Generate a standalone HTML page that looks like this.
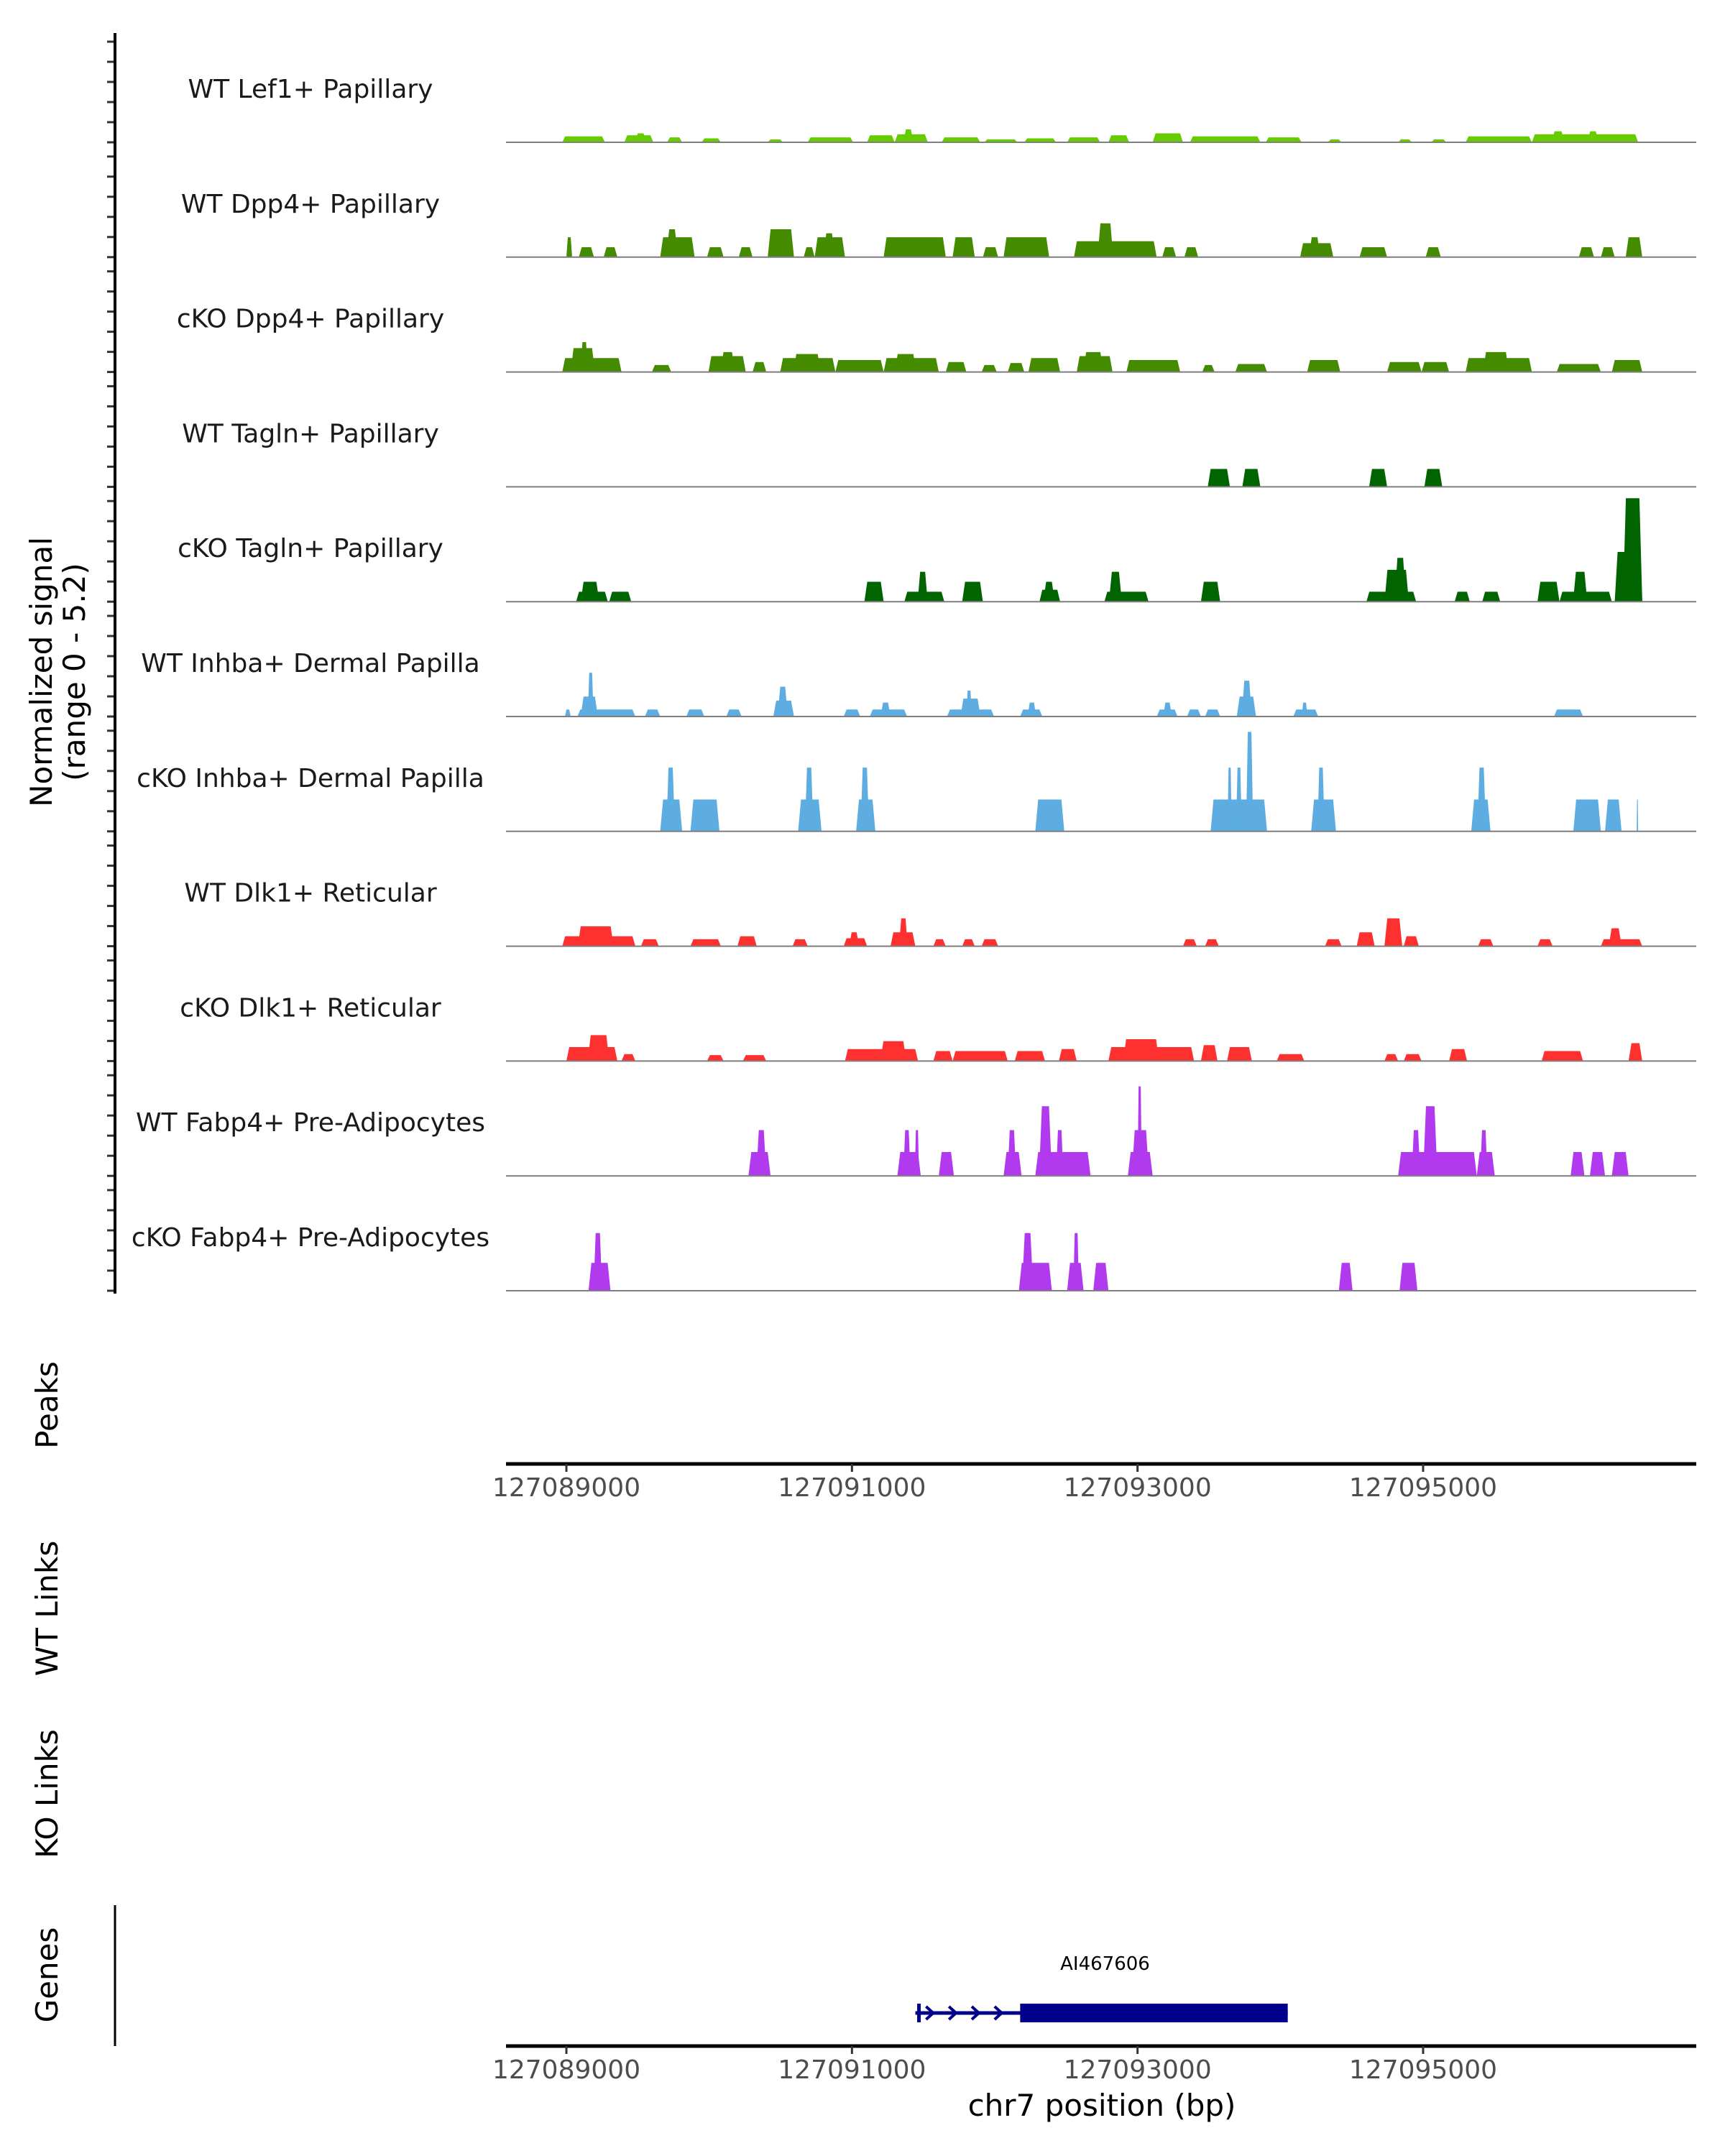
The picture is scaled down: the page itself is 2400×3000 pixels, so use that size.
<!DOCTYPE html>
<html><head><meta charset="utf-8">
<style>
html,body{margin:0;padding:0;background:#fff;}
svg{display:block;font-family:"DejaVu Sans","Liberation Sans",sans-serif;}
</style></head>
<body>
<svg id="chart" width="2400" height="3000" viewBox="0 0 2400 3000" xmlns="http://www.w3.org/2000/svg">
<g id="tracks"></g>
<g id="axes"></g>
</svg>
<script>
const trackNames = ["WT Lef1+ Papillary","WT Dpp4+ Papillary","cKO Dpp4+ Papillary","WT Tagln+ Papillary","cKO Tagln+ Papillary","WT Inhba+ Dermal Papilla","cKO Inhba+ Dermal Papilla","WT Dlk1+ Reticular","cKO Dlk1+ Reticular","WT Fabp4+ Pre-Adipocytes","cKO Fabp4+ Pre-Adipocytes"];
const trackColors = ["#66cc00","#458b00","#458b00","#006400","#006400","#5dade2","#5dade2","#ff3030","#ff3030","#b23aee","#b23aee"];
const xTicks = [127089000,127091000,127093000,127095000];
const xDomain = [127088577,127096913];
const yMax = 5.2;
const geneName = "AI467606";
const geneStart = 127091444, geneThickStart = 127092178, geneEnd = 127094052;

const lef1 = [[127088971,127089270,0.3],[127089406,127089609,0.35],[127089480,127089560,0.45],[127089705,127089811,0.25],[127089947,127090082,0.2],[127090410,127090517,0.15],[127090690,127091009,0.25],[127091106,127091299,0.35],[127091299,127091531,0.4],[127091360,127091430,0.65],[127091628,127091898,0.25],[127091927,127092159,0.15],[127092207,127092429,0.2],[127092507,127092738,0.25],[127092796,127092941,0.35],[127093106,127093318,0.45],[127093367,127093860,0.3],[127093898,127094149,0.25],[127094333,127094429,0.15],[127094825,127094922,0.15],[127095057,127095163,0.15],[127095298,127095762,0.3],[127095762,127096506,0.4],[127095900,127095990,0.55],[127096150,127096230,0.55]];
const wtDpp4 = [[127089000,127089040,1.0],[127089087,127089193,0.5],[127089261,127089357,0.5],[127089657,127089898,1.0],[127089700,127089780,1.4],[127089985,127090101,0.5],[127090207,127090304,0.5],[127090410,127090594,1.4],[127090662,127090739,0.5],[127090739,127090951,1.0],[127090800,127090880,1.2],[127091222,127091657,1.0],[127091705,127091860,1.0],[127091917,127092024,0.5],[127092062,127092381,1.0],[127092555,127093134,0.8],[127092720,127092830,1.7],[127093173,127093270,0.5],[127093328,127093425,0.5],[127094139,127094371,0.7],[127094200,127094280,1.0],[127094555,127094748,0.5],[127095018,127095124,0.5],[127096091,127096197,0.5],[127096245,127096342,0.5],[127096419,127096535,1.0]];
const koDpp4 = [[127088971,127089386,0.7],[127089030,127089200,1.2],[127089100,127089150,1.5],[127089599,127089734,0.35],[127089995,127090256,0.8],[127090080,127090180,1.0],[127090304,127090400,0.5],[127090497,127090884,0.7],[127090590,127090780,0.9],[127090884,127091222,0.6],[127091222,127091608,0.7],[127091300,127091450,0.9],[127091657,127091801,0.5],[127091908,127092014,0.35],[127092091,127092207,0.45],[127092236,127092458,0.7],[127092574,127092825,0.8],[127092620,127092760,1.0],[127092922,127093299,0.6],[127093453,127093540,0.35],[127093685,127093907,0.4],[127094188,127094420,0.6],[127094748,127094989,0.5],[127094989,127095182,0.5],[127095298,127095762,0.7],[127095420,127095600,1.0],[127095936,127096245,0.4],[127096322,127096535,0.6]];
const wtTagln = [[127093492,127093647,0.9],[127093734,127093860,0.9],[127094622,127094748,0.9],[127095009,127095134,0.9]];
const koTagln = [[127089068,127089290,0.5],[127089100,127089230,1.0],[127089300,127089454,0.5],[127091087,127091222,1.0],[127091367,127091647,0.5],[127091460,127091530,1.5],[127091772,127091917,1.0],[127092313,127092458,0.6],[127092340,127092420,1.0],[127092768,127093077,0.5],[127092800,127092890,1.5],[127093444,127093579,1.0],[127094603,127094951,0.5],[127094730,127094900,1.6],[127094800,127094880,2.2],[127095221,127095327,0.5],[127095414,127095540,0.5],[127095801,127095955,1.0],[127095955,127096322,0.5],[127096050,127096150,1.5],[127096342,127096535,2.5],[127096400,127096535,5.2]];
const wtInhba = [[127088990,127089030,0.35],[127089077,127089483,0.35],[127089100,127089220,1.0],[127089150,127089190,2.2],[127089550,127089657,0.35],[127089840,127089966,0.35],[127090120,127090227,0.35],[127090449,127090594,0.8],[127090480,127090550,1.5],[127090942,127091058,0.35],[127091125,127091386,0.35],[127091200,127091270,0.7],[127091666,127091995,0.35],[127091760,127091900,0.9],[127091800,127091840,1.3],[127092178,127092333,0.35],[127092230,127092290,0.7],[127093135,127093280,0.35],[127093180,127093240,0.7],[127093347,127093444,0.35],[127093473,127093579,0.35],[127093695,127093830,1.0],[127093730,127093800,1.8],[127094091,127094265,0.35],[127094150,127094190,0.7],[127095917,127096120,0.35]];
const koInhba = [[127089657,127089811,1.6],[127089700,127089760,3.2],[127089869,127090072,1.6],[127090623,127090787,1.6],[127090670,127090730,3.2],[127091029,127091164,1.6],[127091060,127091120,3.2],[127092284,127092487,1.6],[127093512,127093907,1.6],[127093630,127093660,3.2],[127093690,127093730,3.2],[127093760,127093810,5.0],[127094216,127094390,1.6],[127094260,127094310,3.2],[127095337,127095472,1.6],[127095380,127095440,3.2],[127096052,127096245,1.6],[127096274,127096390,1.6],[127096496,127096506,1.6]];
const wtDlk1 = [[127088971,127089483,0.5],[127089080,127089330,1.0],[127089522,127089647,0.35],[127089869,127090082,0.35],[127090198,127090333,0.5],[127090584,127090690,0.35],[127090942,127091106,0.4],[127090980,127091050,0.7],[127091270,127091444,0.7],[127091330,127091390,1.4],[127091570,127091657,0.35],[127091772,127091860,0.35],[127091908,127092024,0.35],[127093318,127093415,0.35],[127093473,127093569,0.35],[127094313,127094429,0.35],[127094535,127094661,0.7],[127094729,127094854,1.4],[127094864,127094970,0.5],[127095385,127095492,0.35],[127095801,127095907,0.35],[127096245,127096535,0.35],[127096300,127096390,0.9]];
const koDlk1 = [[127089000,127089357,0.7],[127089150,127089300,1.3],[127089386,127089483,0.35],[127089985,127090101,0.3],[127090236,127090400,0.3],[127090951,127091463,0.6],[127091200,127091380,1.0],[127091570,127091705,0.5],[127091705,127092091,0.5],[127092140,127092352,0.5],[127092449,127092574,0.6],[127092796,127093396,0.7],[127092900,127093150,1.1],[127093444,127093560,0.8],[127093627,127093801,0.7],[127093975,127094168,0.35],[127094729,127094825,0.35],[127094864,127094989,0.35],[127095182,127095308,0.6],[127095830,127096120,0.5],[127096439,127096535,0.9]];
const wtFabp4 = [[127090275,127090430,1.2],[127090330,127090400,2.3],[127091318,127091482,1.2],[127091360,127091410,2.3],[127091440,127091470,2.3],[127091608,127091714,1.2],[127092062,127092188,1.2],[127092090,127092150,2.3],[127092284,127092671,1.2],[127092310,127092400,3.5],[127092430,127092480,2.3],[127092932,127093106,1.2],[127092960,127093080,2.3],[127093000,127093030,4.5],[127094825,127095376,1.2],[127094920,127094980,2.3],[127095000,127095100,3.5],[127095376,127095502,1.2],[127095400,127095450,2.3],[127096033,127096130,1.2],[127096168,127096274,1.2],[127096322,127096439,1.2]];
const koFabp4 = [[127089155,127089309,1.4],[127089190,127089250,2.9],[127092169,127092400,1.4],[127092190,127092270,2.9],[127092507,127092622,1.4],[127092550,127092590,2.9],[127092690,127092796,1.4],[127094410,127094506,1.4],[127094835,127094960,1.4]];
const trackData = [lef1,wtDpp4,koDpp4,wtTagln,koTagln,wtInhba,koInhba,wtDlk1,koDlk1,wtFabp4,koFabp4];

const NS = "http://www.w3.org/2000/svg";
const X0 = 704, X1 = 2360;
const xScale = bp => X0 + (bp - xDomain[0]) / (xDomain[1] - xDomain[0]) * (X1 - X0);
const base0 = 198, step = 159.8, trackH = 144;
const yScale = (i, v) => base0 + i * step - v / yMax * trackH;
function mk(tag, attrs, parent) { const e = document.createElementNS(NS, tag); for (const k in attrs) e.setAttribute(k, attrs[k]); parent.appendChild(e); return e; }
const tg = document.getElementById('tracks'), ag = document.getElementById('axes');

trackData.forEach((segs, i) => {
  const g = mk('g', {}, tg);
  
  
  const yb = yScale(i, 0);
  segs.forEach(s => {
    const xa = xScale(s[0]), xb = xScale(s[1]), yt = yScale(i, s[2]);
    const sl = Math.min(4, (xb - xa) / 4);
    const p = mk('polygon', {points: `${xa},${yb} ${xa+sl},${yt} ${xb-sl},${yt} ${xb},${yb}`, fill: trackColors[i]}, g);
    
    
  });
  const bl = mk('line', {x1: X0, x2: X1, y1: yb, y2: yb, stroke: '#7f7f7f', 'stroke-width': 2}, g);
  
  
  const lb = mk('text', {x: 432, y: yb - 62, 'text-anchor': 'middle', 'font-size': 36, fill: '#1a1a1a'}, g);
  lb.textContent = trackNames[i];
  
  
  for (let k = 0; k < 6; k++) {
    const ty = yb - k * 28;
    const t = mk('line', {x1: 149, x2: 160, y1: ty, y2: ty, stroke: '#333', 'stroke-width': 3}, ag);
    
    
  }
});
const yax = mk('line', {x1: 160, x2: 160, y1: 46, y2: yScale(10, 0) + 4, stroke: '#000', 'stroke-width': 4}, ag);



function xAxis(y, name) {
  const l = mk('line', {x1: X0, x2: X1, y1: y, y2: y, stroke: '#000', 'stroke-width': 5}, ag);
  
  
  xTicks.forEach(t => {
    const x = xScale(t);
    const tk = mk('line', {x1: x, x2: x, y1: y, y2: y + 11, stroke: '#333', 'stroke-width': 3}, ag);
    
    
    const tl = mk('text', {x: x, y: y + 45, 'text-anchor': 'middle', 'font-size': 36, fill: '#4d4d4d'}, ag);
    tl.textContent = t;
    
    
  });
}
xAxis(2037, 'peaks-x-axis');
xAxis(2847, 'genes-x-axis');

const xt = mk('text', {x: 1533, y: 2944, 'text-anchor': 'middle', 'font-size': 42, fill: '#000'}, ag);
xt.textContent = 'chr7 position (bp)';



function vtitle(lines, cy, name) {
  const t = mk('text', {transform: `translate(80,${cy}) rotate(-90)`, 'text-anchor': 'middle', 'font-size': 42, fill: '#000'}, ag);
  lines.forEach((s, j) => { const sp = mk('tspan', {x: 0, dy: j ? 46 : (lines.length > 1 ? -8 : 0)}, t); sp.textContent = s; });
  
  
}
vtitle(['Normalized signal', '(range 0 - 5.2)'], 935, 'y-axis-title');
vtitle(['Peaks'], 1955, 'peaks-title');
vtitle(['WT Links'], 2238, 'wt-links-title');
vtitle(['KO Links'], 2496, 'ko-links-title');
vtitle(['Genes'], 2748, 'genes-title');

const gax = mk('line', {x1: 160, x2: 160, y1: 2651, y2: 2847, stroke: '#000', 'stroke-width': 3}, ag);



const gy = 2801;
const gg = mk('g', {}, ag);


mk('line', {x1: xScale(geneStart), x2: xScale(geneEnd), y1: gy, y2: gy, stroke: '#00008b', 'stroke-width': 5}, gg);
mk('line', {x1: xScale(geneStart) + 5, x2: xScale(geneStart) + 5, y1: gy - 13, y2: gy + 13, stroke: '#00008b', 'stroke-width': 5}, gg);
mk('rect', {x: xScale(geneThickStart), y: gy - 13, width: xScale(geneEnd) - xScale(geneThickStart), height: 26, fill: '#00008b'}, gg);
for (let b = geneStart + 100; b < geneThickStart - 50; b += 160) {
  const x = xScale(b);
  mk('polyline', {points: `${x-5},${gy-9} ${x+5},${gy} ${x-5},${gy+9}`, fill: 'none', stroke: '#00008b', 'stroke-width': 4}, gg);
}
const gl = mk('text', {x: (xScale(geneThickStart) + xScale(geneEnd)) / 2 - 68, y: 2741, 'text-anchor': 'middle', 'font-size': 26, fill: '#000'}, gg);
gl.textContent = geneName;


</script>
</body></html>
